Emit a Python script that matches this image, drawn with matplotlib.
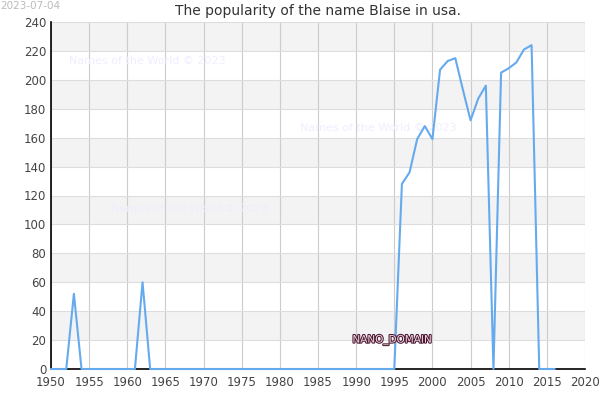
import matplotlib.pyplot as plt
import matplotlib.patheffects as pe

# popularity of Blaise per year
years = list(range(1950, 2017))
values = [0, 0, 0, 52, 0, 0, 0, 0, 0, 0,
          0, 0, 60, 0, 0, 0, 0, 0, 0, 0,
          0, 0, 0, 0, 0, 0, 0, 0, 0, 0,
          0, 0, 0, 0, 0, 0, 0, 0, 0, 0,
          0, 0, 0, 0, 0, 0, 128, 136, 159, 168,
          159, 207, 213, 215, 193, 172, 187, 196, 0, 205,
          208, 212, 221, 224, 0, 0, 0]

x_ticks = list(range(1950, 2021, 5))
y_ticks = list(range(0, 241, 20))

fig = plt.figure(figsize=(6, 4), dpi=100)
ax = fig.add_axes([0.085, 0.0775, 0.89, 0.8675])

# alternating grey bands
for lo in range(20, 240, 40):
    ax.axhspan(lo, lo + 20, color='#f3f3f3', zorder=0, lw=0)

ax.plot(years, values, color='#66aaee', lw=1.5, zorder=4, clip_on=False)

ax.set_xlim(1950, 2020)
ax.set_ylim(0, 240)
ax.set_xticks(x_ticks)
ax.set_yticks(y_ticks)
ax.tick_params(length=0, labelsize=8.5, labelcolor='#444444')
ax.tick_params(axis='x', pad=5)
ax.grid(axis='x', color='#cccccc', lw=0.8, zorder=1)
ax.grid(axis='y', color='#dddddd', lw=0.8, zorder=1)
ax.set_axisbelow(True)
for s in ['top', 'right']:
    ax.spines[s].set_visible(False)
for s in ['left', 'bottom']:
    ax.spines[s].set_color('black')
    ax.spines[s].set_linewidth(1.2)

ax.set_title('The popularity of the name Blaise in usa.', fontsize=10, color='#333333', pad=5)
fig.text(0.0, 0.998, '2023-07-04', fontsize=7.5, color='#bbbbbb', va='top', ha='left')

# watermarks
wm = 'Names of the World \u00a9 2023'
for wx, wy in [(1952.3, 213), (1982.6, 167), (1957.9, 111)]:
    ax.text(wx, wy, wm, fontsize=8, color='#eeeeff', va='center', ha='left', zorder=2)

ax.text(1994.7, 20, 'NANO_DOMAIN', fontsize=7.5, color='#f3d6e4', ha='center', va='center', zorder=5,
        path_effects=[pe.withStroke(linewidth=1.5, foreground='#4a1a30')])

fig.savefig('out.png', dpi=100)
